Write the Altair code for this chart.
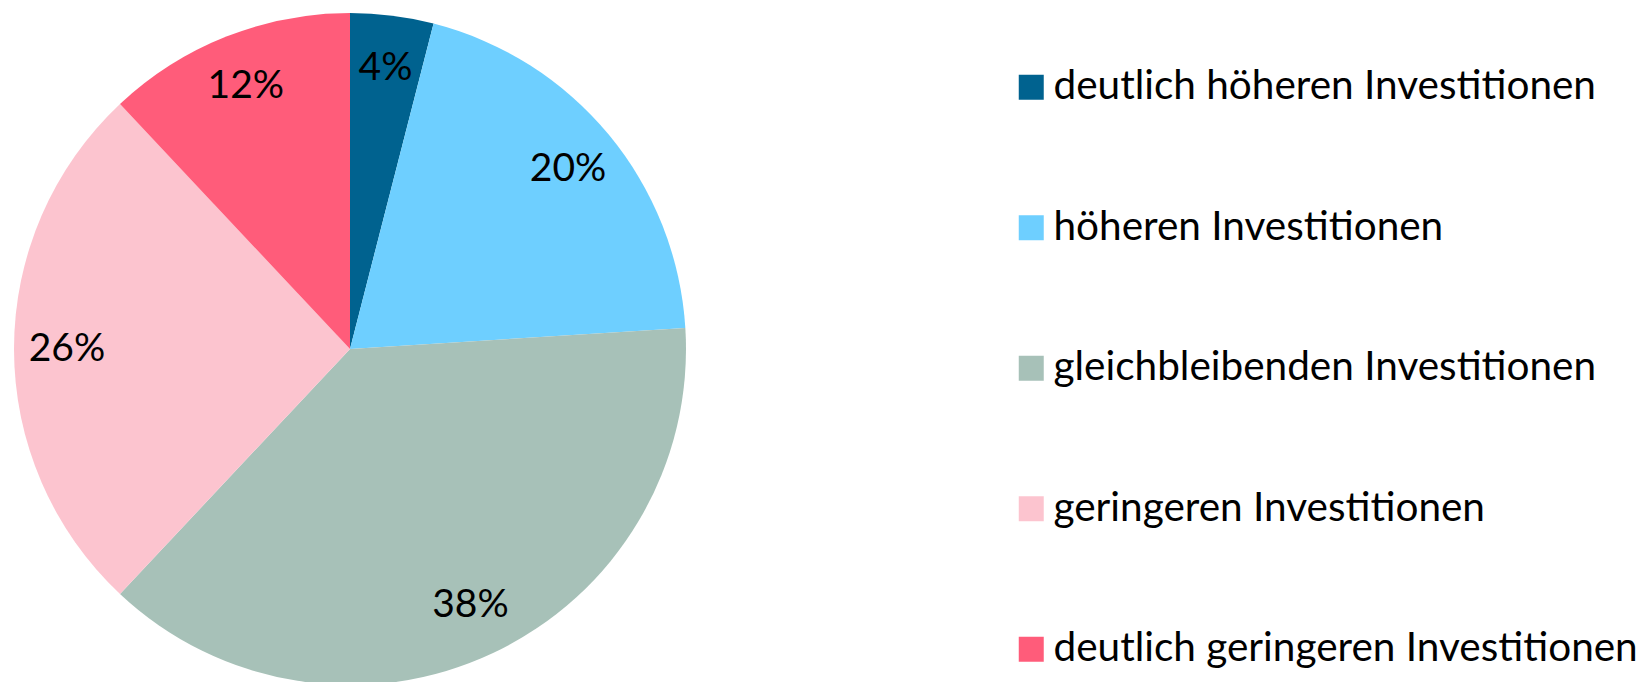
import altair as alt
import pandas as pd

categories = [
    "deutlich höheren Investitionen",
    "höheren Investitionen",
    "gleichbleibenden Investitionen",
    "geringeren Investitionen",
    "deutlich geringeren Investitionen",
]
values = [4, 20, 38, 26, 12]
colors = ["#00628F", "#6ECFFF", "#A7C1B8", "#FCC4CF", "#FF5C7A"]

df = pd.DataFrame({
    "cat": categories,
    "val": values,
    "ord": list(range(len(categories))),
    "lbl": [f"{v}%" for v in values],
})

FONT = "Lato"
CX, CY, R = 342, 341, 336

base = alt.Chart(df).encode(
    theta=alt.Theta("val:Q", stack=True),
    order=alt.Order("ord:Q"),
)

pie = base.mark_arc(outerRadius=R, stroke=None).encode(
    x=alt.value(CX),
    y=alt.value(CY),
    color=alt.Color(
        "cat:N",
        scale=alt.Scale(domain=categories, range=colors),
        sort=categories,
        legend=alt.Legend(
            title=None,
            orient="none",
            legendX=1003,
            legendY=59,
            symbolType="square",
            symbolSize=625,
            symbolStrokeWidth=0,
            labelFont=FONT,
            labelFontSize=40.5,
            labelColor="#000000",
            labelOffset=2,
            labelLimit=800,
            rowPadding=99.5,
        ),
    ),
)

labels = base.mark_text(
    radius=283, font=FONT, fontSize=39, color="#000000",
    align="center", baseline="middle",
).encode(
    x=alt.value(CX),
    y=alt.value(CY),
    text="lbl:N",
)

chart = (pie + labels).properties(
    width=1630, height=674,
    autosize=alt.AutoSizeParams(type="none"),
    padding=0,
).configure_view(stroke=None)

chart.save("out.html", embed_options={"renderer": "svg", "actions": False})
